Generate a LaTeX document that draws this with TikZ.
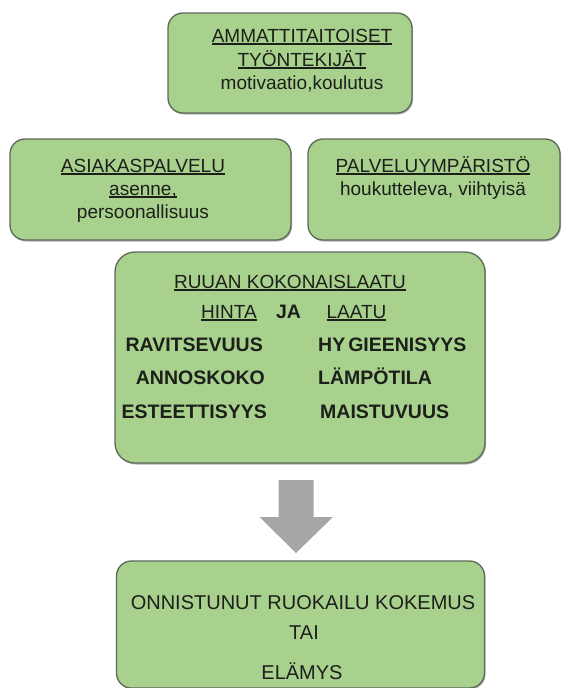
\documentclass[tikz,border=0pt]{standalone}
\usepackage{fontspec}
\setmainfont{Liberation Sans}
\usetikzlibrary{shadows}
\definecolor{boxgreen}{HTML}{A9D18E}
\definecolor{boxline}{HTML}{5C6858}
\definecolor{arrowgray}{HTML}{A6A6A6}
\definecolor{inkdark}{HTML}{1C1F1A}
% underline with a firmer rule than \underline
\newcommand{\uln}[1]{\leavevmode\setbox0=\hbox{#1}\rlap{\rule[-2.6pt]{\wd0}{1.3pt}}\box0}
\begin{document}
\begin{tikzpicture}[x=1pt,y=-1pt,
  card/.style={draw=boxline, line width=1.3pt, fill=boxgreen, rounded corners=15pt,
    inner sep=0pt, drop shadow={shadow xshift=1pt, shadow yshift=-1.5pt, opacity=.3, fill=black}},
  lbl/.style={font=\fontsize{19}{22}\selectfont, text=inkdark, inner sep=0pt, anchor=base},
  lblb/.style={lbl, font=\fontsize{19.5}{22}\selectfont\bfseries},
  big/.style={lbl, font=\fontsize{20}{24}\selectfont},
]
\useasboundingbox (0,0) rectangle (568,688);

% boxes
\node[card, minimum width=244pt, minimum height=100pt] (staff) at (290,63) {};
\node[card, minimum width=281pt, minimum height=101pt] (service) at (150.5,189.5) {};
\node[card, minimum width=252pt, minimum height=101pt] (setting) at (434,189.5) {};
\node[card, rounded corners=20pt, minimum width=370pt, minimum height=211pt] (food) at (300,357.5) {};
\node[card, minimum width=368pt, minimum height=127pt] (result) at (300.5,624.5) {};

% texts of the upper box
\node[lbl] (staffa) at (302,42) {\uln{AMMATTITAITOISET}};
\node[lbl] (staffb) at (302,66) {\uln{TYÖNTEKIJÄT}};
\node[lbl] (staffc) at (302,89) {motivaatio,koulutus};

% service and setting
\node[lbl] (servicea) at (143,172) {\uln{ASIAKASPALVELU}};
\node[lbl] (serviceb) at (143,195) {\uln{asenne,}};
\node[lbl] (servicec) at (143,218) {persoonallisuus};
\node[lbl] (settinga) at (433,172) {\uln{PALVELUYMPÄRISTÖ}};
\node[lbl] (settingb) at (433,195) {houkutteleva, viihtyisä};

% food quality
\node[lbl] (fooda) at (290,288) {\uln{RUUAN KOKONAISLAATU}};
\node[lbl] (price) at (229,318) {\uln{HINTA}};
\node[lblb] (andw) at (288.5,318) {JA};
\node[lbl] (qual) at (356.5,318) {\uln{LAATU}};
\node[lblb, anchor=base east] (la) at (263,351) {RAVITSEVUUS};
\node[lblb, anchor=base east] (lb) at (265,384) {ANNOSKOKO};
\node[lblb, anchor=base east] (lc) at (267,418) {ESTEETTISYYS};
\node[lblb, anchor=base west] (ra) at (318,351) {HY\kern3pt GIEENISYYS};
\node[lblb, anchor=base west] (rb) at (318,384) {LÄMPÖTILA};
\node[lblb, anchor=base west] (rc) at (320,418) {MAISTUVUUS};

% block arrow
\fill[arrowgray] (278.5,480) -- (313.5,480) -- (313.5,517) -- (333,517)
  -- (296,553) -- (259.5,517) -- (278.5,517) -- cycle;

% outcome
\node[big] (resa) at (303,609) {ONNISTUNUT RUOKAILU KOKEMUS};
\node[big] (resb) at (304,639) {TAI};
\node[big] (resc) at (302,679) {ELÄMYS};
\end{tikzpicture}
\end{document}
